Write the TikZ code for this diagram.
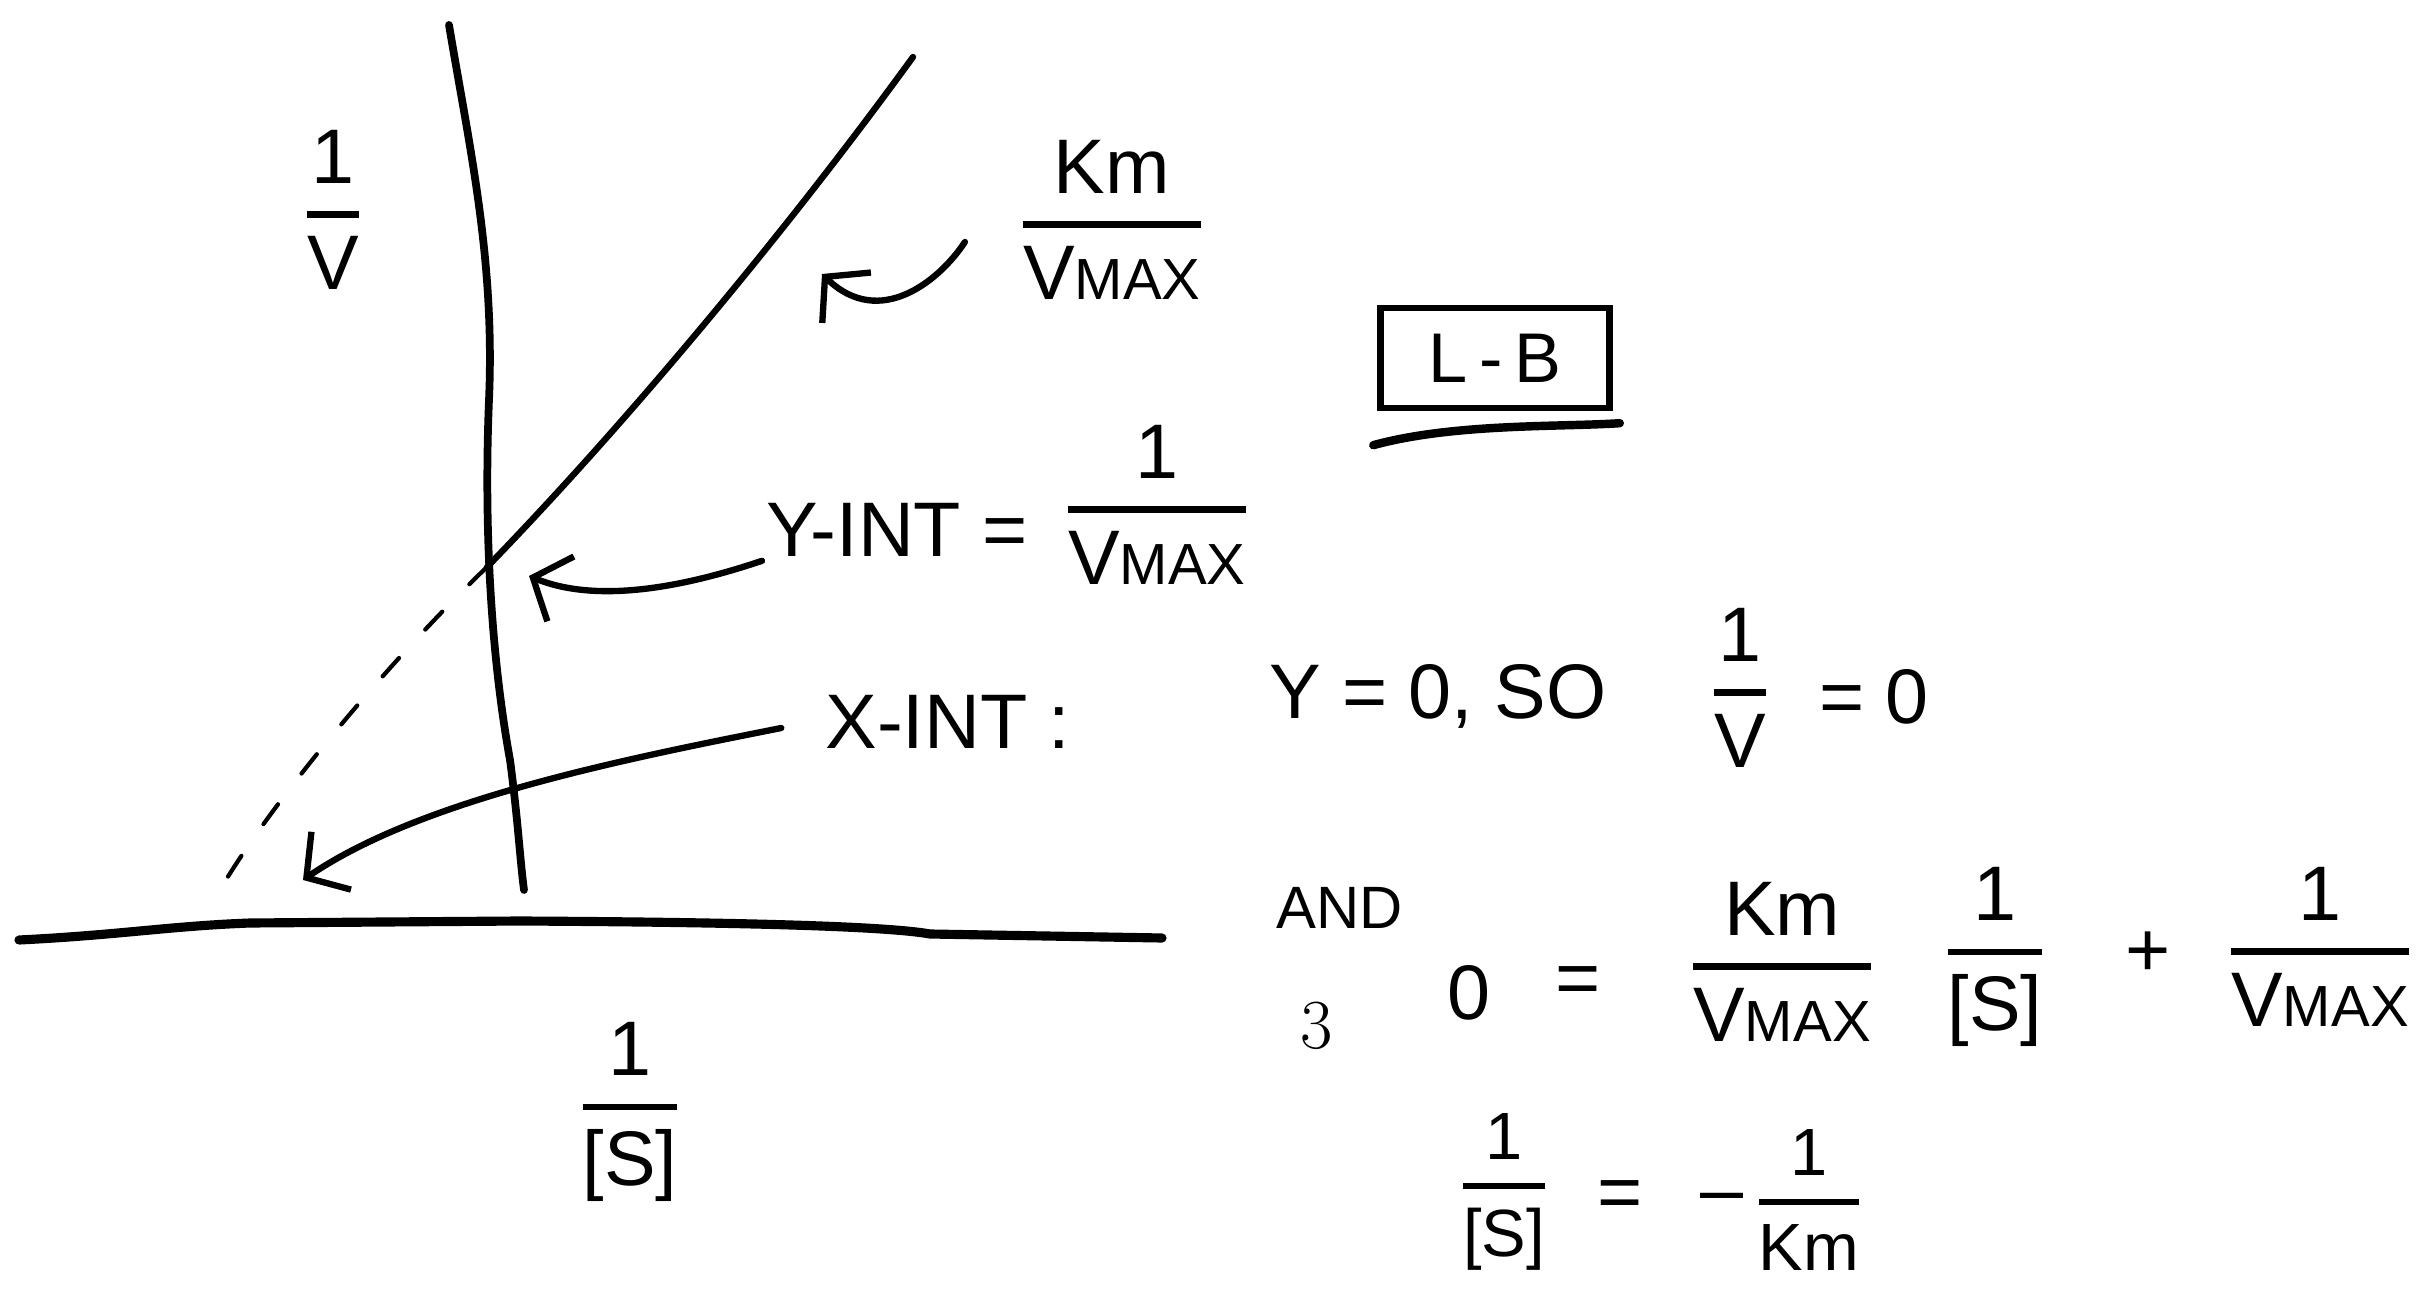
\documentclass[tikz,border=0pt]{standalone}
\usepackage{amsmath}
\usepackage{graphicx}
\usepackage{fontspec}
\setsansfont{Liberation Sans}
\usetikzlibrary{positioning,arrows.meta,calc}

\newcommand{\hwfrac}[2]{$\genfrac{}{}{1.8pt}{0}{\text{#1}}{\text{#2}}$}
\newcommand{\vmaxtxt}{V\scalebox{0.75}{MAX}}

\begin{document}
\begin{tikzpicture}[x=0.01cm,y=-0.01cm,
    hand/.style={line width=1.8pt,line cap=round,line join=round},
    pointer/.style={hand,-{Straight Barb[length=3mm,width=7mm]}},
    hw/.style={font=\sffamily\fontsize{22}{26}\selectfont,inner sep=1pt},
    hwsmall/.style={font=\sffamily\fontsize{17}{20}\selectfont,inner sep=1pt}]
  \useasboundingbox (0,0) rectangle (2425,1289);

  % axes and the L-B line
  \coordinate (vtop) at (449,25);
  \coordinate (vbot) at (524,890);
  \coordinate (hleft) at (19,940);
  \coordinate (hright) at (1162,938);
  \coordinate (yint) at (487,567);
  \coordinate (lineend) at (913,57);
  \coordinate (xint) at (211,905);
  \draw[hand,line width=2.2pt] (vtop) .. controls (470,150) and (495,260) .. (489,400)
    .. controls (484,520) and (490,650) .. (510,760) .. controls (518,820) and (520,860) .. (vbot);
  \draw[hand,line width=2.6pt] (hleft) .. controls (120,935) and (170,926) .. (250,923) -- (520,921)
    .. controls (700,922) and (880,925) .. (930,934) -- (hright);
  \draw[hand] (yint) .. controls (620,430) and (780,240) .. (lineend);
  \draw[hand,line width=1.2pt,dash pattern=on 7pt off 11pt] (yint) .. controls (400,650) and (270,800) .. (xint);

  \node[hw] (invvel) at (333,210) {\hwfrac{1}{V}};
  \node[hw] (invsub) at (630,1112) {\hwfrac{1}{[S]}};

  \node[hw] (slopelbl) at (1112,220) {\hwfrac{Km}{\vmaxtxt}};
  \coordinate (slopetip) at (822,274);
  \draw[pointer] ([shift={(-50,22)}]slopelbl.west) .. controls (940,280) and (880,330) .. (slopetip);

  \node[hw] (yintlbl) at (897,530) {Y-INT =};
  \node[hw] (yintval) at (1157,505) {\hwfrac{1}{\vmaxtxt}};
  \draw[pointer] (yintlbl.south west) .. controls (690,585) and (600,605) .. ([shift={(42,9)}]yint);

  \node[hw] (xintlbl) at (948,722) {X-INT :};
  \coordinate (xtip) at (303,880);
  \draw[pointer] ([shift={(-40,6)}]xintlbl.west) .. controls (620,760) and (420,800) .. (xtip);

  \node[hwsmall,draw,line width=1.8pt,minimum width=2.29cm,minimum height=1cm,
    font=\sffamily\fontsize{20}{24}\selectfont] (lb) at (1495,358) {L\,-\,B};
  \draw[hand,line width=2.4pt] ([shift={(-4,34)}]lb.south west) .. controls +(80,-22) and +(-60,4) .. ([shift={(7,12)}]lb.south east);

  % x-intercept working
  \node[hw] (yzero) at (1438,696) {Y = 0, SO};
  \node[hw] (vinv) at (1740,688) {\hwfrac{1}{V}};
  \node[hw] (vzero) at (1874,697) {= 0};

  \node[hwsmall] (andlbl) at (1340,908) {AND};
  \node[font=\rmfamily\fontsize{20}{24}\selectfont] (pagenum) at (1317,1026) {3};
  \node[hw] (lhszero) at (1469,993) {0};
  \node[hw] (eqone) at (1578,986) {=};
  \node[hw] (kmfrac) at (1782,962) {\hwfrac{Km}{\vmaxtxt}};
  \node[hw] (sfrac) at (1995,957) {\hwfrac{1}{[S]}};
  \node[hw] (plus) at (2148,954) {+};
  \node[hw] (vmaxfrac) at (2320,947) {\hwfrac{1}{\vmaxtxt}};

  \node[hw,font=\sffamily\fontsize{19}{23}\selectfont] (sres) at (1504,1192) {\hwfrac{1}{[S]}};
  \node[hw] (eqtwo) at (1620,1200) {=};
  \node[hw] (negsign) at (1722,1204) {--};
  \node[hw,font=\sffamily\fontsize{19}{23}\selectfont] (kminv) at (1809,1200) {\hwfrac{1}{Km}};
\end{tikzpicture}
\end{document}
